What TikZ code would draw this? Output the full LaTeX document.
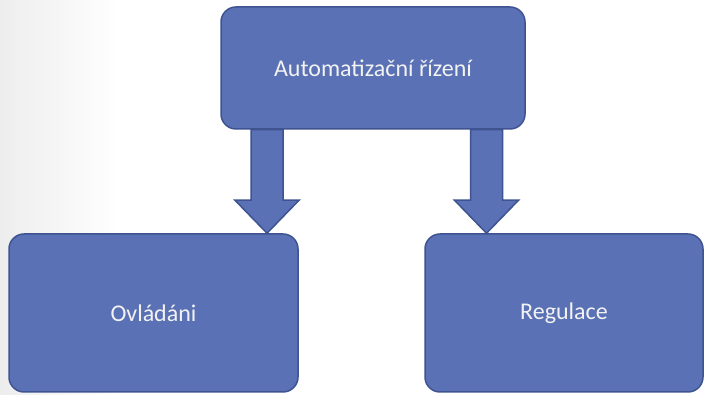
\documentclass[tikz,border=0pt]{standalone}
\usepackage{fontspec}
\setmainfont{Carlito}
\usetikzlibrary{calc}
\definecolor{boxfill}{HTML}{5A72B5}
\definecolor{boxline}{HTML}{3E5390}
\definecolor{boxtext}{HTML}{F2F2F2}

\begin{document}
\begin{tikzpicture}[x=1pt,y=1pt,
    box/.style={draw=boxline, line width=1.5pt, fill=boxfill, rounded corners=15pt,
        text=boxtext, font=\fontsize{24}{28}\selectfont, inner sep=0pt},
    blockarrow/.style={draw=boxline, line width=1.5pt, fill=boxfill, line join=miter,
        to path={let \p1=(\tikztostart), \p2=(\tikztotarget) in
            (\x1-16pt,\y1) -- (\x1-16pt,\y2+33pt) -- (\x1-32pt,\y2+33pt) -- (\x2,\y2)
            -- (\x1+32pt,\y2+33pt) -- (\x1+16pt,\y2+33pt) -- (\x1+16pt,\y1) -- cycle}}]
    \useasboundingbox (0,0) rectangle (705,395);
    \fill[white] (0,0) rectangle (705,395);
    \shade[left color=black!7, right color=white] (0,0) rectangle (120,395);
    % boxes
    \node[box, minimum width=304pt, minimum height=122pt] (auto) at (373,327) {Automatizační řízení};
    \node[box, minimum width=289pt, minimum height=158pt] (ovl) at (153.5,82) {Ovládáni};
    \node[box, minimum width=278pt, minimum height=158pt] (reg) at (564,82) {Regulace};
    % block arrows
    \coordinate (lx) at (267,0);
    \coordinate (rx) at (486.5,0);
    \draw[blockarrow] (auto.south -| lx) to (ovl.north -| lx);
    \draw[blockarrow] (auto.south -| rx) to (reg.north -| rx);
\end{tikzpicture}
\end{document}
